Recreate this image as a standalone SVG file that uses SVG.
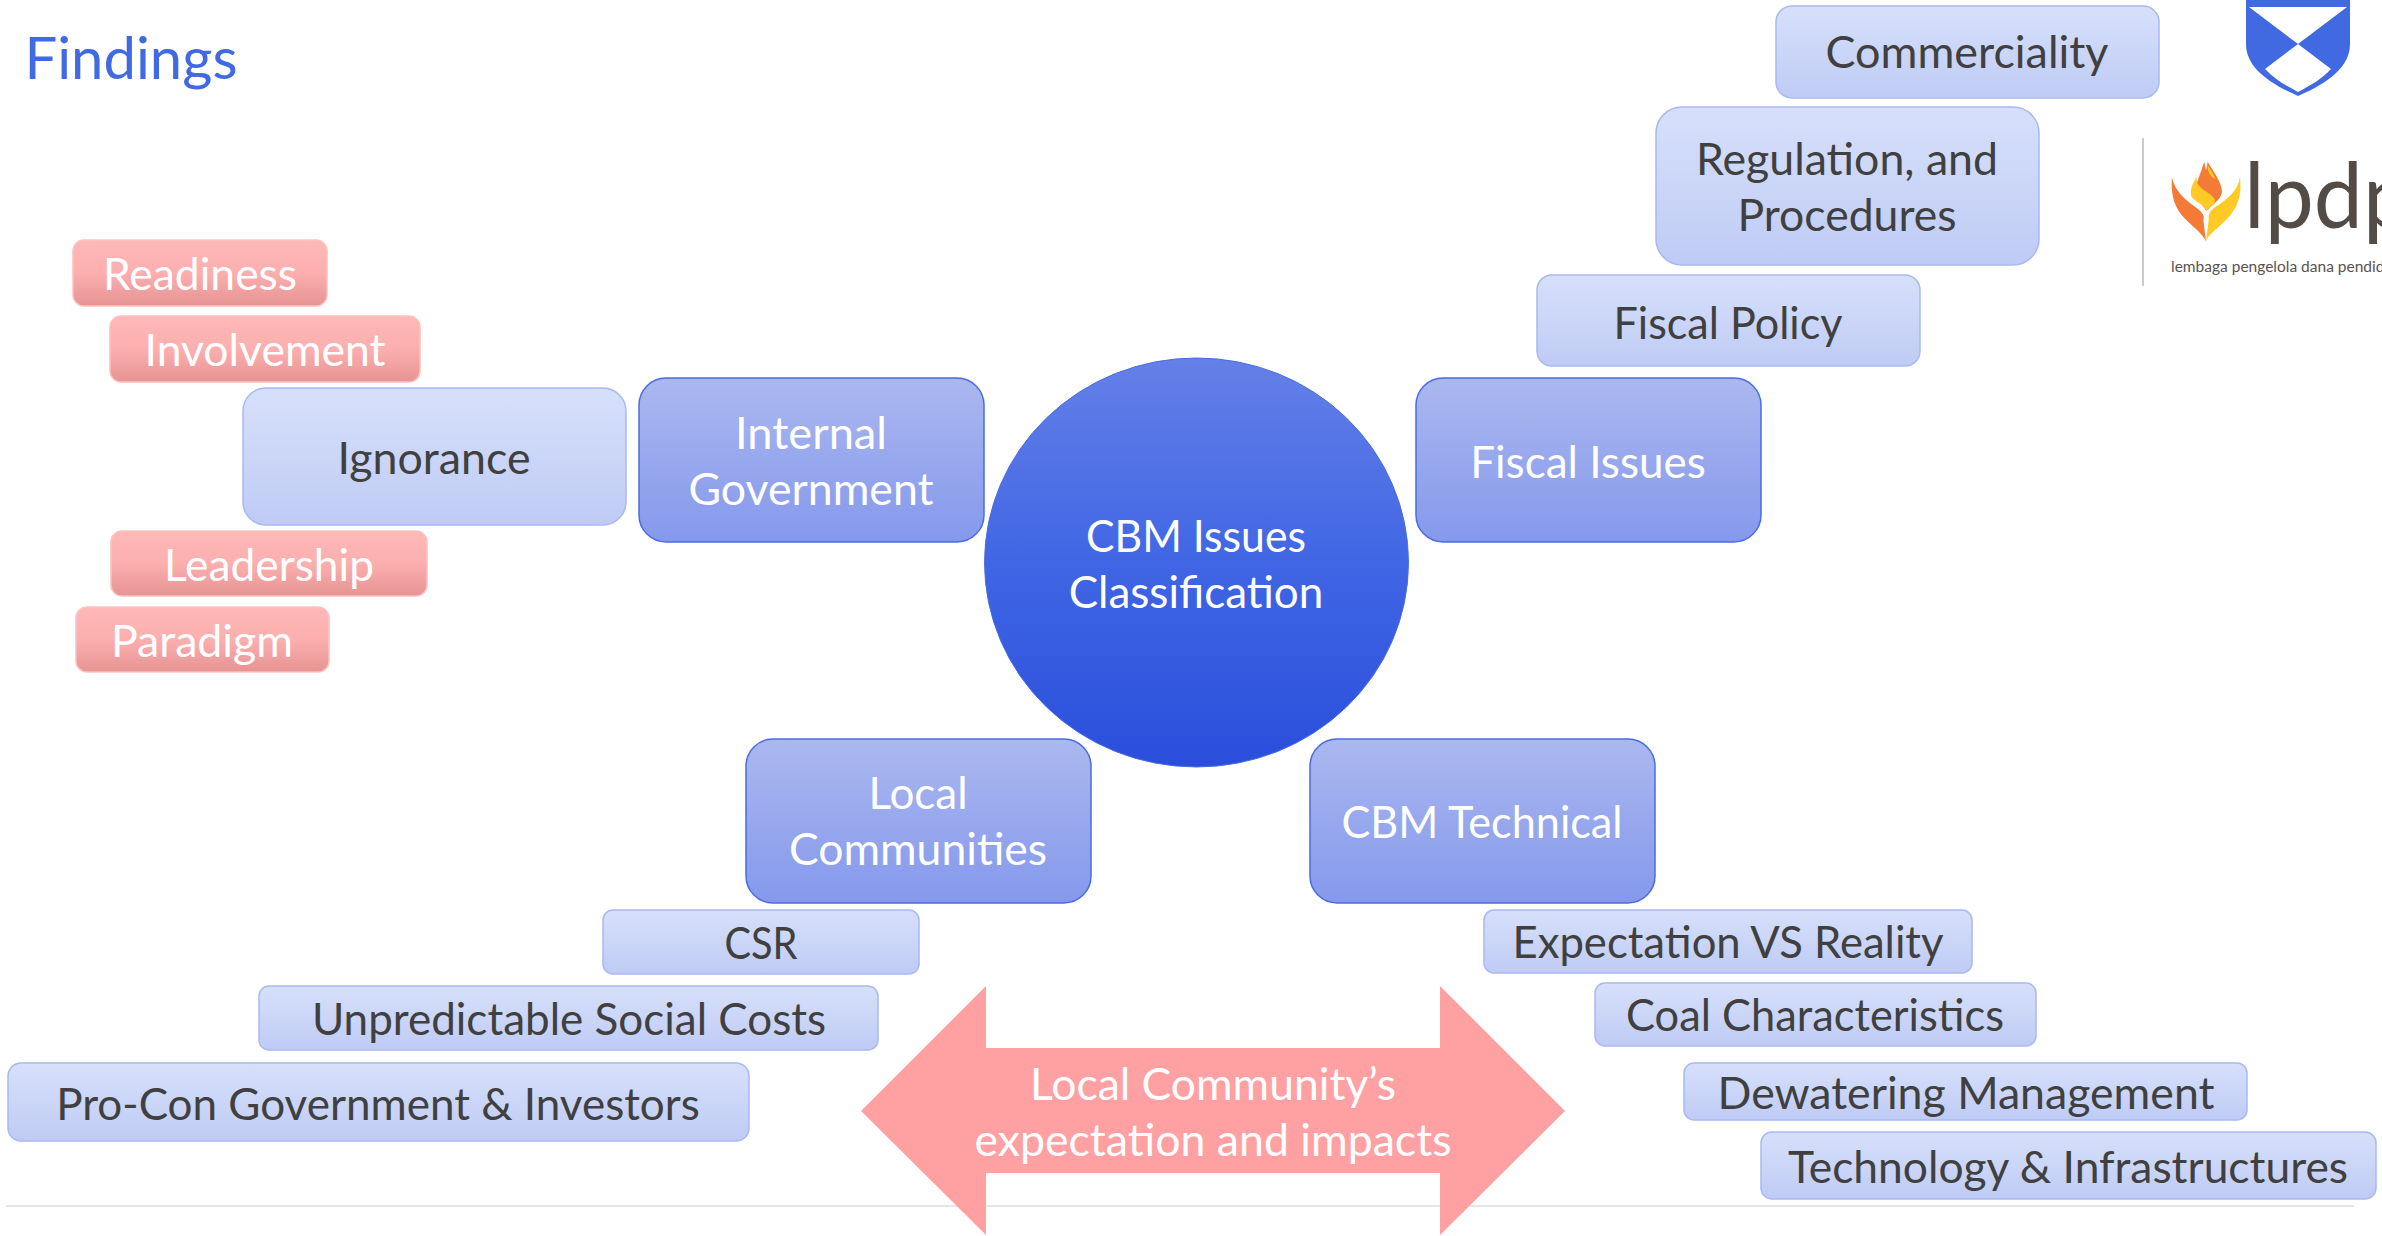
<svg xmlns="http://www.w3.org/2000/svg" width="2382" height="1236" viewBox="0 0 2382 1236">
<style>
text{font-family:Lato,"Liberation Sans",sans-serif;text-anchor:middle;font-size:44px}
.d{fill:#404040}.w{fill:#fff}
.lb{fill:url(#lb);stroke:#a9b9f1;stroke-width:1.500}
.mb{fill:url(#mb);stroke:#4a6ce0;stroke-width:1.500}
.pk{fill:url(#pk);stroke:#ffc0c0;stroke-width:1.500}
</style>
<defs>
<linearGradient id="lb" x1="0" y1="0" x2="0" y2="1"><stop offset="0" stop-color="#d7e0fa"/><stop offset="1" stop-color="#bfcbf5"/></linearGradient>
<linearGradient id="mb" x1="0" y1="0" x2="0" y2="1"><stop offset="0" stop-color="#abb8ef"/><stop offset="1" stop-color="#8598ec"/></linearGradient>
<linearGradient id="ci" x1="0" y1="0" x2="0" y2="1"><stop offset="0" stop-color="#6580e7"/><stop offset="0.5" stop-color="#4066e5"/><stop offset="1" stop-color="#2a4edb"/></linearGradient>
<linearGradient id="pk" x1="0" y1="0" x2="0" y2="1"><stop offset="0" stop-color="#ffb8b8"/><stop offset="0.5" stop-color="#fcafaf"/><stop offset="1" stop-color="#e69393"/></linearGradient>
</defs>
<rect width="2382" height="1236" fill="#fff"/>
<rect id="footer-line" x="6" y="1205" width="2348" height="2" fill="#e6e6e6"/>
<text id="title" x="131" y="79" textLength="213" lengthAdjust="spacingAndGlyphs" style="font-size:58px;fill:#4169e1">Findings</text>
<g id="logo-shield">
<path d="M2246 0H2350V44C2350 66 2330 82 2298 96C2266 82 2246 66 2246 44Z" fill="#4169e1"/>
<path d="M2249 7H2347L2298 44Z M2298 44L2331 69C2322 79 2311 85 2298 92C2285 85 2274 79 2265 69Z" fill="#fff"/>
</g>
<g id="logo-lpdp">
<rect x="2142" y="138" width="2" height="148" fill="#ccc"/>
<g transform="translate(2160 150) scale(.3333)">
<path d="M36 82C42 120 75 150 105 170C125 185 135 195 130 210L138 275C130 250 90 225 65 195C40 165 32 125 36 82Z" fill="#f47a35"/>
<path d="M240 82C235 120 200 150 175 165C150 180 145 190 146 210L138 275C145 250 190 225 215 190C238 160 245 125 240 82Z" fill="#fecb26"/>
<path d="M137 180C130 195 130 205 137 218C143 205 145 195 137 180Z" fill="#fff"/>
<path d="M133 35L138 62L143 35C160 65 185 95 186 125C182 150 160 160 145 178L138 182C130 165 110 150 100 130Z" fill="#f47a35"/>
<path d="M110 80C95 105 88 125 95 140C110 160 130 160 139 182C150 170 165 165 165 150C150 120 105 120 110 80Z" fill="#fecb26"/>
<path d="M143 45C155 65 165 80 165 87C150 78 142 65 143 45Z" fill="#fecb26"/>
</g>
<text x="2244" y="228" textLength="168" lengthAdjust="spacingAndGlyphs" style="text-anchor:start;font-size:91px;fill:#534b45">lpdp</text>
<text x="2171" y="272" style="text-anchor:start;font-size:15.500px;fill:#5a5450">lembaga pengelola dana pendid</text>
</g>
<g id="n-commerciality"><rect class="lb" x="1776" y="6" width="383" height="92" rx="16"/><text class="d" x="1967" y="68" textLength="283" lengthAdjust="spacingAndGlyphs">Commerciality</text></g>
<g id="n-regulation"><rect class="lb" x="1656" y="107" width="383" height="158" rx="26"/><text class="d" x="1847" y="175" textLength="302" lengthAdjust="spacingAndGlyphs">Regulation, and</text><text class="d" x="1847" y="231" textLength="219" lengthAdjust="spacingAndGlyphs">Procedures</text></g>
<g id="n-fiscal-policy"><rect class="lb" x="1537" y="275" width="383" height="91" rx="15"/><text class="d" x="1728" y="339" textLength="229" lengthAdjust="spacingAndGlyphs">Fiscal Policy</text></g>
<g id="n-fiscal-issues"><rect class="mb" x="1416" y="378" width="345" height="164" rx="27"/><text class="w" x="1588" y="478">Fiscal Issues</text></g>
<g id="n-internal"><rect class="mb" x="639" y="378" width="345" height="164" rx="27"/><text class="w" x="811" y="449" textLength="152" lengthAdjust="spacingAndGlyphs">Internal</text><text class="w" x="811" y="505" textLength="245" lengthAdjust="spacingAndGlyphs">Government</text></g>
<g id="n-center"><ellipse cx="1196.500" cy="562.500" rx="212" ry="204.500" fill="url(#ci)" stroke="#4a6ce0" stroke-width="1"/><text class="w" x="1196" y="552" textLength="220" lengthAdjust="spacingAndGlyphs">CBM Issues</text><text class="w" x="1196" y="608">Classification</text></g>
<g id="n-readiness"><rect class="pk" x="73" y="240" width="254" height="66" rx="11"/><text class="w" x="200" y="290" textLength="194" lengthAdjust="spacingAndGlyphs">Readiness</text></g>
<g id="n-involvement"><rect class="pk" x="110" y="316" width="310" height="66" rx="11"/><text class="w" x="265" y="366" textLength="241" lengthAdjust="spacingAndGlyphs">Involvement</text></g>
<g id="n-ignorance"><rect class="lb" x="243" y="388" width="383" height="137" rx="23"/><text class="d" x="434" y="474" textLength="193" lengthAdjust="spacingAndGlyphs">Ignorance</text></g>
<g id="n-leadership"><rect class="pk" x="111" y="531" width="316" height="65" rx="11"/><text class="w" x="269" y="581" textLength="210" lengthAdjust="spacingAndGlyphs">Leadership</text></g>
<g id="n-paradigm"><rect class="pk" x="76" y="607" width="253" height="65" rx="11"/><text class="w" x="202" y="657" textLength="182" lengthAdjust="spacingAndGlyphs">Paradigm</text></g>
<g id="n-local"><rect class="mb" x="746" y="739" width="345" height="164" rx="27"/><text class="w" x="918" y="809">Local</text><text class="w" x="918" y="865" textLength="258" lengthAdjust="spacingAndGlyphs">Communities</text></g>
<g id="n-technical"><rect class="mb" x="1310" y="739" width="345" height="164" rx="27"/><text class="w" x="1482" y="838" textLength="281" lengthAdjust="spacingAndGlyphs">CBM Technical</text></g>
<g id="n-csr"><rect class="lb" x="603" y="910" width="316" height="64" rx="10"/><text class="d" x="761" y="959" textLength="73" lengthAdjust="spacingAndGlyphs">CSR</text></g>
<g id="n-social"><rect class="lb" x="259" y="986" width="619" height="64" rx="10"/><text class="d" x="569" y="1035">Unpredictable Social Costs</text></g>
<g id="n-procon"><rect class="lb" x="8" y="1063" width="741" height="78" rx="13"/><text class="d" x="378" y="1120">Pro-Con Government &amp; Investors</text></g>
<g id="n-expectation"><rect class="lb" x="1484" y="910" width="488" height="63" rx="10"/><text class="d" x="1728" y="958" textLength="431" lengthAdjust="spacingAndGlyphs">Expectation VS Reality</text></g>
<g id="n-coal"><rect class="lb" x="1595" y="983" width="441" height="63" rx="10"/><text class="d" x="1815" y="1031" textLength="378" lengthAdjust="spacingAndGlyphs">Coal Characteristics</text></g>
<g id="n-dewatering"><rect class="lb" x="1684" y="1063" width="563" height="57" rx="10"/><text class="d" x="1966" y="1109" textLength="497" lengthAdjust="spacingAndGlyphs">Dewatering Management</text></g>
<g id="n-technology"><rect class="lb" x="1761" y="1132" width="615" height="67" rx="11"/><text class="d" x="2068" y="1183" textLength="560" lengthAdjust="spacingAndGlyphs">Technology &amp; Infrastructures</text></g>
<g id="n-arrow"><path d="M861 1111L986 986V1048H1440V986L1565 1111L1440 1235V1173H986V1235Z" fill="#ffa0a2"/><text class="w" x="1213" y="1100" textLength="366" lengthAdjust="spacingAndGlyphs">Local Community’s</text><text class="w" x="1213" y="1156" textLength="477" lengthAdjust="spacingAndGlyphs">expectation and impacts</text></g>
</svg>
